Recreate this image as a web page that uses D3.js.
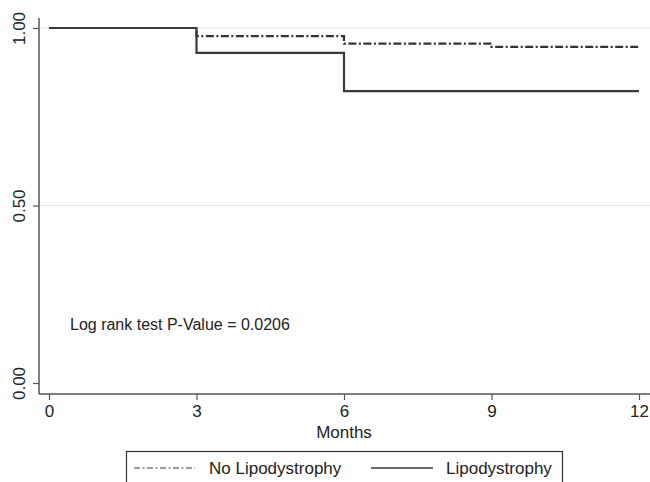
<!DOCTYPE html>
<html>
<head>
<meta charset="utf-8">
<script src="https://cdn.jsdelivr.net/npm/d3@7"></script>
<style>
  body { margin: 0; background: #fff; }
  svg { display: block; font-family: "Liberation Sans", Arial, sans-serif; }
</style>
</head>
<body>
<script>
// survival estimates
var months = [0, 3, 6, 9, 12];
var noLipo = [1.0, 0.977, 0.956, 0.947, 0.947];
var lipo = [1.0, 0.93, 0.822, 0.822, 0.822];
var yTicks = [0, 0.5, 1];
var xTicks = [0, 3, 6, 9, 12];
var pText = "Log rank test P-Value = 0.0206";

var width = 650, height = 482;
// plot frame (axis lines) and inner data area
var frame = {left: 39, top: 18, right: 650, bottom: 394};

var svg = d3.select("body").append("svg")
    .attr("width", width)
    .attr("height", height);

var x = d3.scaleLinear().domain([0, 12]).range([49, 639]);
var y = d3.scaleLinear().domain([0, 1]).range([383, 28]);

// gridlines
svg.append("g")
  .selectAll("line")
  .data(yTicks.filter(function(d) { return d > 0; }))
  .enter().append("line")
    .attr("x1", frame.left + 1)
    .attr("x2", frame.right)
    .attr("y1", function(d) { return y(d); })
    .attr("y2", function(d) { return y(d); })
    .attr("stroke", "#e4e4e4")
    .attr("stroke-width", 1.2);

// curves
var line = d3.line()
    .curve(d3.curveStepAfter)
    .x(function(d) { return x(d[0]); })
    .y(function(d) { return y(d[1]); });

svg.append("path")
    .datum(d3.zip(months, noLipo))
    .attr("fill", "none")
    .attr("stroke", "#333")
    .attr("stroke-width", 2.2)
    .attr("stroke-dasharray", "8,2.5,2,2.5")
    .attr("d", line);

svg.append("path")
    .datum(d3.zip(months, lipo))
    .attr("fill", "none")
    .attr("stroke", "#3a3a3a")
    .attr("stroke-width", 2.2)
    .attr("d", line);

// axes
var yAxis = svg.append("g")
    .attr("transform", "translate(" + frame.left + ",0)")
    .call(d3.axisLeft(y).tickValues(yTicks).tickFormat(d3.format(".2f")).tickSize(6).tickPadding(6));
yAxis.select(".domain").remove();
yAxis.selectAll(".tick line").attr("stroke", "#555").attr("stroke-width", 1.2);
yAxis.selectAll(".tick text")
    .attr("fill", "#222")
    .style("font-size", "17px")
    .attr("transform", "rotate(-90)")
    .attr("x", 0)
    .attr("y", -14)
    .attr("dy", 0)
    .attr("text-anchor", "middle");

var xAxis = svg.append("g")
    .attr("transform", "translate(0," + frame.bottom + ")")
    .call(d3.axisBottom(x).tickValues(xTicks).tickSize(6).tickPadding(5));
xAxis.select(".domain").remove();
xAxis.selectAll(".tick line").attr("stroke", "#555").attr("stroke-width", 1.2);
xAxis.selectAll(".tick text").attr("fill", "#222").style("font-size", "17px");

// axis lines
svg.append("line")
    .attr("x1", frame.left).attr("x2", frame.left)
    .attr("y1", frame.top).attr("y2", frame.bottom)
    .attr("stroke", "#555").attr("stroke-width", 1.5);
svg.append("line")
    .attr("x1", frame.left).attr("x2", frame.right)
    .attr("y1", frame.bottom).attr("y2", frame.bottom)
    .attr("stroke", "#555").attr("stroke-width", 1.5);

// axis title
svg.append("text")
    .attr("x", x(6))
    .attr("y", 438)
    .attr("text-anchor", "middle")
    .attr("fill", "#222")
    .style("font-size", "17px")
    .text("Months");

// annotation
svg.append("text")
    .attr("x", 70)
    .attr("y", 330)
    .attr("fill", "#222")
    .style("font-size", "16px")
    .text(pText);

// legend
var legend = svg.append("g");
legend.append("rect")
    .attr("x", 126.5).attr("y", 451.5)
    .attr("width", 436).attr("height", 40)
    .attr("fill", "#fff")
    .attr("stroke", "#333")
    .attr("stroke-width", 1.2);

var items = [
  {label: "No Lipodystrophy", dash: "6,2.5,2,2.5", x0: 134, x1: 195, tx: 209},
  {label: "Lipodystrophy", dash: null, x0: 371, x1: 433, tx: 446}
];
items.forEach(function(it) {
  legend.append("line")
      .attr("x1", it.x0).attr("x2", it.x1)
      .attr("y1", 468).attr("y2", 468)
      .attr("stroke", "#3a3a3a")
      .attr("stroke-width", it.dash ? 1.2 : 1.5)
      .attr("stroke-dasharray", it.dash);
  legend.append("text")
      .attr("x", it.tx)
      .attr("y", 474)
      .attr("fill", "#222")
      .style("font-size", "17px")
      .text(it.label);
});
</script>
</body>
</html>
